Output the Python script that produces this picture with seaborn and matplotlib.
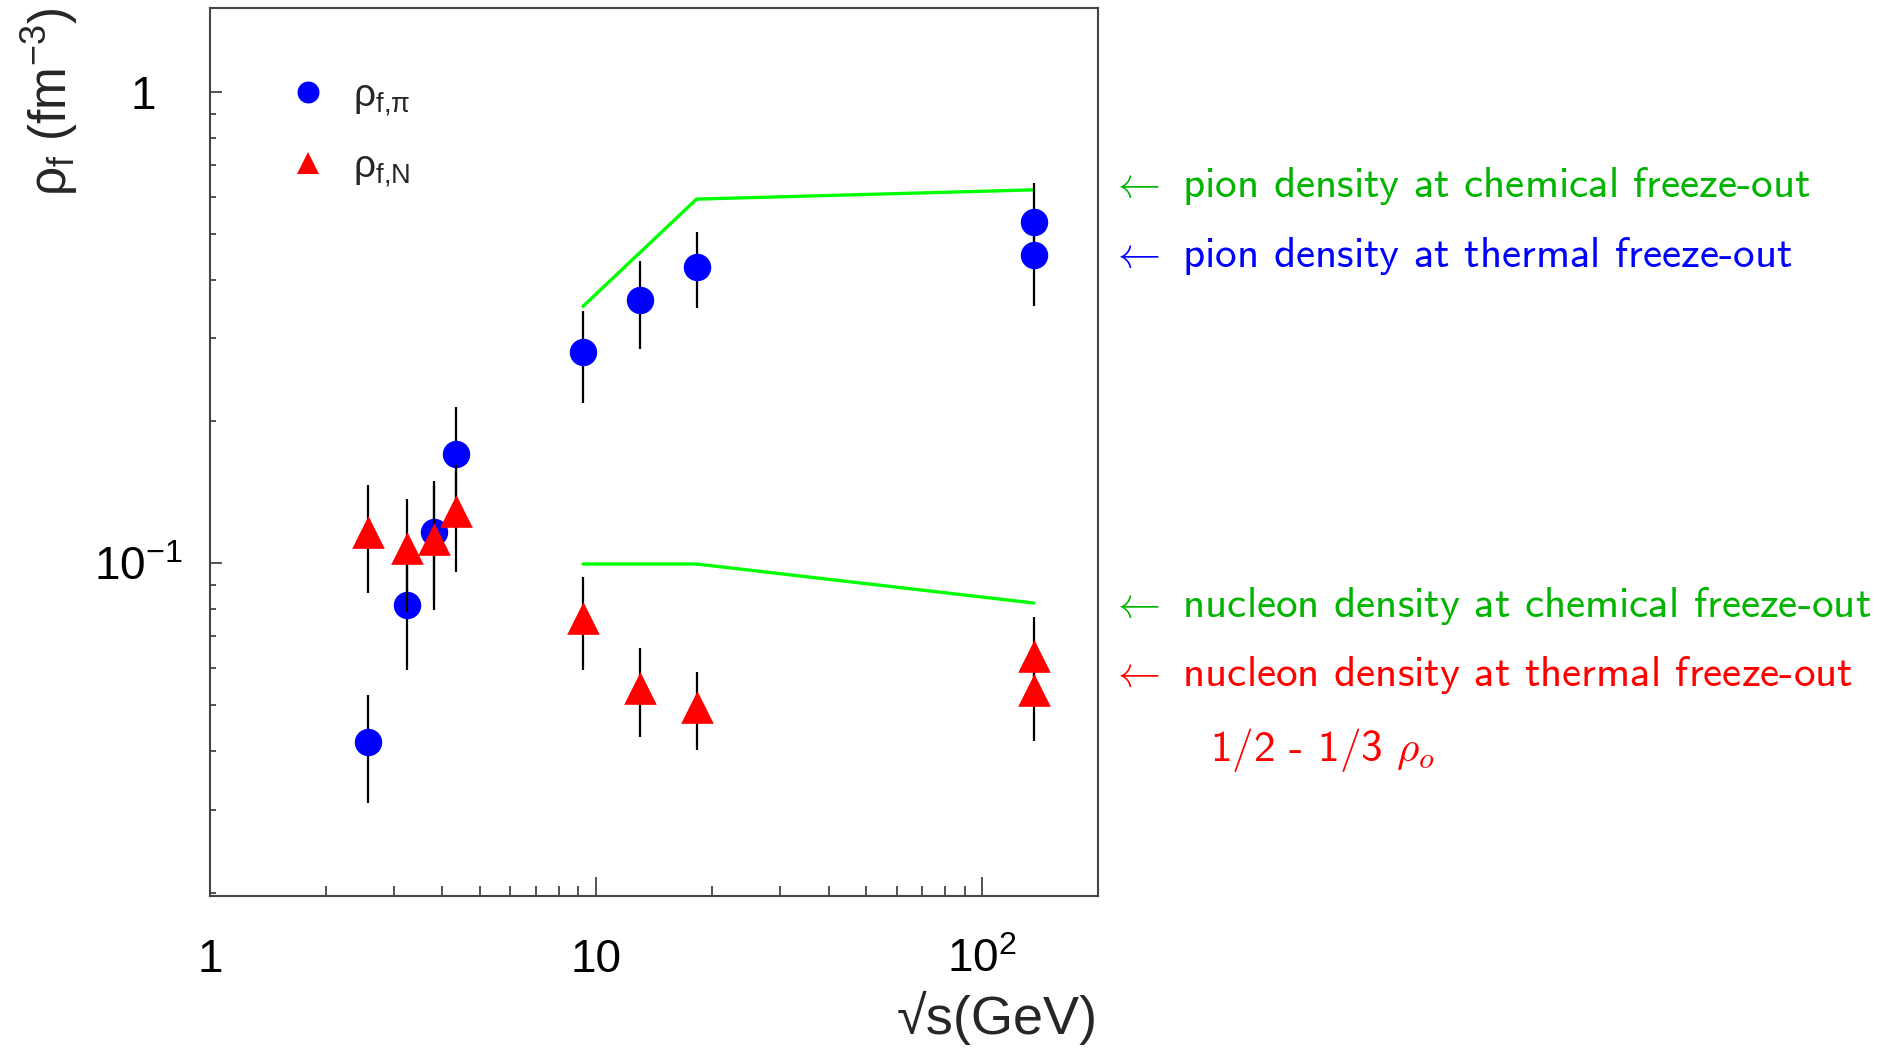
import matplotlib
matplotlib.use("Agg")
import matplotlib.pyplot as plt
import seaborn as sns
import pandas as pd
from matplotlib.ticker import FixedLocator, FixedFormatter, NullFormatter
from matplotlib.lines import Line2D

# ---------------- data ----------------
sqrt_s = [2.56, 3.24, 3.80, 4.33, 9.25, 13.0, 18.2, 136.0, 136.0]
rho_pion = [0.0418, 0.0815, 0.1167, 0.171, 0.281, 0.362, 0.426, 0.530, 0.451]
rho_pion_err = [0.0107, 0.022, 0.033, 0.044, 0.062, 0.077, 0.078, 0.11, 0.10]
rho_nucleon = [0.1166, 0.108, 0.1127, 0.129, 0.0765, 0.0545, 0.0495, 0.0636, 0.054]
rho_nucleon_err = [0.030, 0.029, 0.033, 0.033, 0.017, 0.0116, 0.0093, 0.0134, 0.012]

chem_sqrt_s = [9.25, 18.2, 136.0]
chem_pion = [0.351, 0.5925, 0.620]
chem_nucleon = [0.0997, 0.0997, 0.0824]

x_major = [1, 10, 100]
x_major_labels = ["1", "10", r"$\mathregular{10^{2}}$"]
y_major = [0.1, 1]
y_major_labels = [r"$\mathregular{10^{-1}}$", "1  "]
x_minor = [2, 3, 4, 5, 6, 7, 8, 9, 20, 30, 40, 50, 60, 70, 80, 90]
y_minor = [0.02, 0.03, 0.04, 0.05, 0.06, 0.07, 0.08, 0.09,
           0.2, 0.3, 0.4, 0.5, 0.6, 0.7, 0.8, 0.9]

annotations = [
    (r"$\leftarrow$ pion density at chemical freeze-out", "#00b400", 186),
    (r"$\leftarrow$ pion density at thermal freeze-out", "#0000ff", 256),
    (r"$\leftarrow$ nucleon density at chemical freeze-out", "#00b400", 606),
    (r"$\leftarrow$ nucleon density at thermal freeze-out", "#ff0000", 675),
]

# ---------------- style ----------------
sns.set_theme(style="ticks")
plt.rcParams['font.family'] = ['Liberation Sans', 'DejaVu Sans']
plt.rcParams['mathtext.fontset'] = 'custom'
plt.rcParams['mathtext.rm'] = 'Liberation Sans'
plt.rcParams['mathtext.it'] = 'Liberation Sans:italic'
plt.rcParams['mathtext.bf'] = 'Liberation Sans:bold'
plt.rcParams['mathtext.sf'] = 'Liberation Sans'

W, H = 1881, 1048
fig = plt.figure(figsize=(W / 100, H / 100), dpi=100)
ax = fig.add_axes([210 / W, 1 - 896 / H, (1098 - 210) / W, (896 - 8) / H])
ax.set_xscale('log')
ax.set_yscale('log')
ax.set_xlim(1, 199.5)
ax.set_ylim(0.0197, 1.507)

df_pi = pd.DataFrame({"sqrt_s": sqrt_s, "rho": rho_pion, "err": rho_pion_err})
df_N = pd.DataFrame({"sqrt_s": sqrt_s, "rho": rho_nucleon, "err": rho_nucleon_err})
df_chem = pd.DataFrame({"sqrt_s": chem_sqrt_s, "pion": chem_pion, "nucleon": chem_nucleon})

# chemical freeze-out lines
sns.lineplot(data=df_chem, x="sqrt_s", y="pion", color="#00ff00", linewidth=2.4,
             estimator=None, sort=False, ax=ax, zorder=1)
sns.lineplot(data=df_chem, x="sqrt_s", y="nucleon", color="#00ff00", linewidth=2.4,
             estimator=None, sort=False, ax=ax, zorder=1)

# pion points
ax.errorbar(df_pi["sqrt_s"], df_pi["rho"], yerr=df_pi["err"], fmt='none',
            ecolor='black', elinewidth=1.6, capsize=0, zorder=2)
sns.scatterplot(data=df_pi, x="sqrt_s", y="rho", marker='o', s=390,
                color="#0000ff", linewidth=0, ax=ax, zorder=3, legend=False)
# nucleon points
ax.errorbar(df_N["sqrt_s"], df_N["rho"], yerr=df_N["err"], fmt='none',
            ecolor='black', elinewidth=1.6, capsize=0, zorder=4)
sns.scatterplot(data=df_N, x="sqrt_s", y="rho", marker='^', s=552,
                color="#ff0000", linewidth=0, ax=ax, zorder=5, legend=False)

# ticks
ax.xaxis.set_major_locator(FixedLocator(x_major))
ax.xaxis.set_major_formatter(FixedFormatter(x_major_labels))
ax.xaxis.set_minor_locator(FixedLocator(x_minor))
ax.xaxis.set_minor_formatter(NullFormatter())
ax.yaxis.set_major_locator(FixedLocator(y_major))
ax.yaxis.set_major_formatter(FixedFormatter(y_major_labels))
ax.yaxis.set_minor_locator(FixedLocator(y_minor))
ax.yaxis.set_minor_formatter(NullFormatter())

ax.tick_params(axis='both', which='both', direction='in', top=False, right=False,
               color='#444444', width=1.3, labelcolor='black')
ax.tick_params(axis='x', which='major', length=14, pad=30, labelsize=33)
ax.tick_params(axis='x', which='minor', length=7)
ax.tick_params(axis='y', which='major', length=8.5, pad=20, labelsize=33)
ax.tick_params(axis='y', which='minor', length=4.3)

for sp in ax.spines.values():
    sp.set_color('#444444')
    sp.set_linewidth(1.5)
    sp.set_visible(True)

ax.set_xlabel("\u221As(GeV)", fontsize=39, loc='right')
ax.xaxis.set_label_coords(1.0, -0.107)
ax.set_ylabel(r"$\mathregular{\rho_{f}\ (fm^{-3})}$", fontsize=37, loc='top')
ax.yaxis.set_label_coords(-0.146, 1.0)

# legend
handles = [
    Line2D([], [], marker='o', linestyle='none', markersize=15.8,
           markerfacecolor='#0000ff', markeredgewidth=0),
    Line2D([], [], marker='^', linestyle='none', markersize=15.8,
           markerfacecolor='#ff0000', markeredgewidth=0),
]
labels = [r"$\mathregular{\rho_{f{,}\pi}}$", r"$\mathregular{\rho_{f{,}N}}$"]
ax.legend(handles, labels, loc='upper left',
          bbox_to_anchor=((269 - 210) / 888, (896 - 78) / 888),
          frameon=False, fontsize=28, handlelength=2.0, handletextpad=0.15,
          borderpad=0, borderaxespad=0, labelspacing=0.8)

# annotations to the right
for txt, col, ypx in annotations:
    fig.text(1110 / W, 1 - ypx / H, txt, color=col, fontsize=31,
             family=['cmss10', 'DejaVu Sans'], math_fontfamily='cm',
             ha='left', va='center')
fig.text(1210 / W, 1 - 750 / H, r"1/2 - 1/3 $\rho_o$", color="#ff0000", fontsize=31,
         family=['cmss10', 'DejaVu Sans'], math_fontfamily='cm',
         ha='left', va='center')

fig.savefig("out.png", dpi=100, facecolor='white')
